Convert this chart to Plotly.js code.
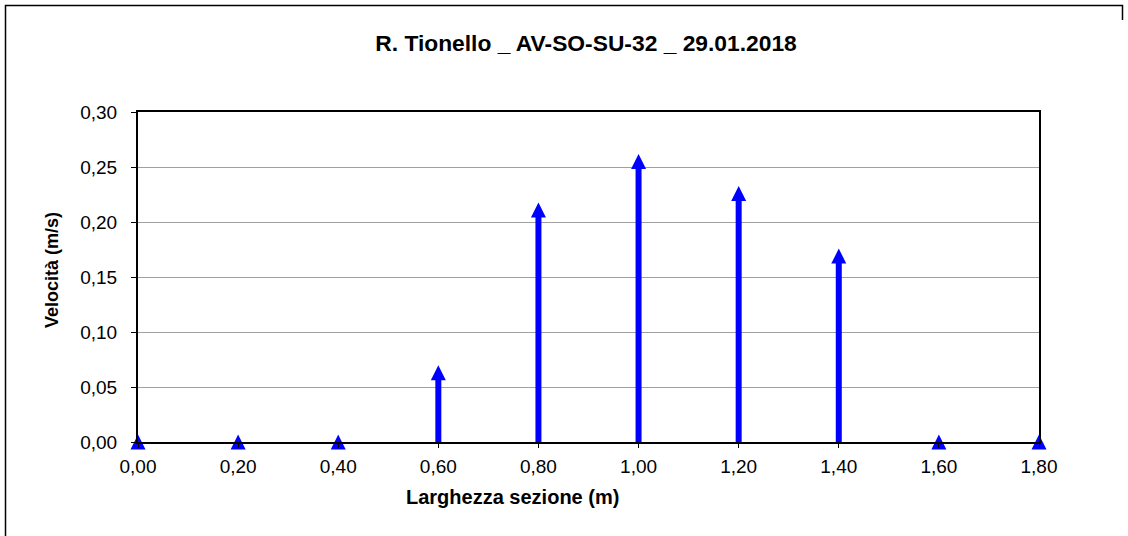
<!DOCTYPE html>
<html>
<head>
<meta charset="utf-8">
<script src="https://cdn.plot.ly/plotly-3.0.1.min.js"></script>
<style>
html,body{margin:0;padding:0;background:#fff;}
#chart{width:1128px;height:536px;}
</style>
</head>
<body>
<div id="chart"></div>
<script>
const widths = [0.00, 0.20, 0.40, 0.60, 0.80, 1.00, 1.20, 1.40, 1.60, 1.80];
const velocities = [0, 0, 0, 0.063, 0.211, 0.255, 0.226, 0.169, 0, 0];
const chartTitle = 'R. Tionello _ AV-SO-SU-32 _ 29.01.2018';
const xTitle = 'Larghezza sezione (m)';
const yTitle = 'Velocità (m/s)';

const W = 1128, H = 536;
const L = 138, R = 89, T = 112, B = 94;
const plotW = W - L - R, plotH = H - T - B;
const yMax = 0.30;
const arrowSize = 15;
const shift = yMax * (arrowSize / 2) / plotH;

function px2x(p){ return (p - L) / plotW; }
function py2y(p){ return (H - B - p) / plotH; }

const stems = {
  x: widths,
  y: velocities,
  type: 'scatter',
  mode: 'markers',
  marker: {size: 0.1, color: 'rgba(0,0,255,0)'},
  error_y: {
    type: 'data',
    symmetric: false,
    array: velocities.map(() => 0),
    arrayminus: velocities,
    color: '#0000FF',
    thickness: 6,
    width: 0
  },
  hoverinfo: 'skip',
  showlegend: false
};

const heads = {
  x: widths,
  y: velocities,
  yaxis: 'y2',
  type: 'scatter',
  mode: 'markers',
  cliponaxis: false,
  marker: {symbol: 'arrow-up', size: arrowSize, color: '#0000FF', line: {width: 0}},
  showlegend: false
};

const font = 'Liberation Sans, Arial, sans-serif';

const layout = {
  width: W, height: H,
  margin: {l: L, r: R, t: T, b: B, pad: 0},
  paper_bgcolor: '#fff',
  plot_bgcolor: '#fff',
  separators: ',.',
  font: {family: font, color: '#000', size: 19},
  title: {
    text: '<b>' + chartTitle + '</b>',
    font: {family: font, size: 22.8, color: '#000'},
    x: px2x(586), xref: 'paper', xanchor: 'center',
    y: 1 - 43 / H, yref: 'container', yanchor: 'middle'
  },
  xaxis: {
    range: [0, 1.8],
    dtick: 0.2, tick0: 0,
    tickformat: '.2f',
    showgrid: false,
    zeroline: false,
    showline: true, linecolor: '#000', linewidth: 2,
    mirror: true,
    ticks: 'outside', ticklen: 4, tickwidth: 1, tickcolor: '#000',
    ticklabelstandoff: 2,
    tickfont: {family: font, size: 19, color: '#000'},
    fixedrange: true
  },
  yaxis: {
    range: [0, yMax],
    dtick: 0.05, tick0: 0,
    tickformat: '.2f',
    showgrid: true, gridcolor: '#a0a0a0', gridwidth: 1,
    zeroline: false,
    showline: true, linecolor: '#000', linewidth: 2,
    mirror: true,
    ticks: 'outside', ticklen: 5, tickwidth: 1, tickcolor: '#000',
    ticklabelstandoff: 10,
    tickfont: {family: font, size: 19, color: '#000'},
    fixedrange: true
  },
  yaxis2: {
    overlaying: 'y',
    range: [-shift, yMax - shift],
    visible: false,
    fixedrange: true
  },
  annotations: [
    {
      text: '<b>' + xTitle + '</b>',
      xref: 'paper', yref: 'paper',
      x: px2x(512), y: py2y(497),
      xanchor: 'center', yanchor: 'middle',
      showarrow: false,
      font: {family: font, size: 20, color: '#000'}
    },
    {
      text: '<b>' + yTitle + '</b>',
      xref: 'paper', yref: 'paper',
      x: px2x(52), y: py2y(270),
      xanchor: 'center', yanchor: 'middle',
      textangle: -90,
      showarrow: false,
      font: {family: font, size: 18, color: '#000'}
    }
  ],
  shapes: [{
    type: 'path', xref: 'paper', yref: 'paper',
    path: 'M ' + px2x(5.5) + ' ' + py2y(545) +
          ' L ' + px2x(5.5) + ' ' + py2y(5.5) +
          ' L ' + px2x(1122.5) + ' ' + py2y(5.5) +
          ' L ' + px2x(1122.5) + ' ' + py2y(20),
    line: {color: '#000', width: 1.5},
    layer: 'below'
  }]
};

Plotly.newPlot('chart', [stems, heads], layout, {displayModeBar: false, staticPlot: true});
</script>
</body>
</html>
